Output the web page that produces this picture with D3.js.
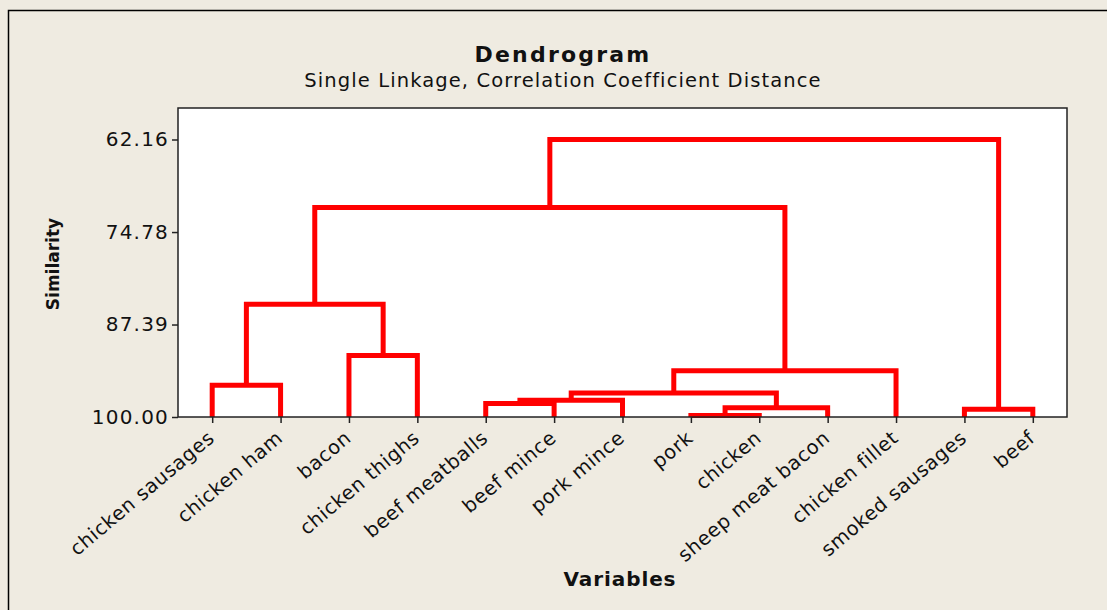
<!DOCTYPE html>
<html>
<head>
<meta charset="utf-8">
<script src="https://cdn.jsdelivr.net/npm/d3@7"></script>
<style>
  html, body { margin: 0; padding: 0; background: #efebe1; }
  svg { display: block; font-family: "DejaVu Sans", Verdana, sans-serif; }
</style>
</head>
<body>
<svg id="chart" width="1107" height="610"></svg>
<script>
// ---- data ----
const variables = ["chicken sausages", "chicken ham", "bacon", "chicken thighs", "beef meatballs",
  "beef mince", "pork mince", "pork", "chicken", "sheep meat bacon", "chicken fillet",
  "smoked sausages", "beef"];
// merge steps: cluster ids 0..12 are leaves, step k creates cluster 13+k
const mergeLeft  = [7, 11, 13, 4, 16, 17, 0, 18, 2, 19, 22, 23];
const mergeRight = [8, 12, 9, 5, 6, 15, 1, 10, 3, 21, 20, 14];
const mergeSimilarity = [99.78, 98.96, 98.73, 98.17, 97.70, 96.73, 95.66, 93.71, 91.61, 84.61, 71.42, 62.16];
const yTicks = [62.16, 74.78, 87.39, 100.00];

const title = "Dendrogram";
const subtitle = "Single Linkage, Correlation Coefficient Distance";
const xTitle = "Variables";
const yTitle = "Similarity";

// ---- layout ----
const W = 1107, H = 610;
const plot = {left: 178, right: 1067, top: 108, bottom: 417};
const svg = d3.select("#chart");

// outer frame
svg.append("rect").attr("x", 8.5).attr("y", 10.5).attr("width", W + 50).attr("height", H + 50)
  .attr("fill", "#efebe1").attr("stroke", "#000").attr("stroke-width", 1.5);

// plot area
svg.append("rect").attr("x", plot.left).attr("y", plot.top)
  .attr("width", plot.right - plot.left).attr("height", plot.bottom - plot.top)
  .attr("fill", "#ffffff");

const x = d3.scalePoint().domain(variables).range([plot.left, plot.right]).padding(0.5);
const y = d3.scaleLinear().domain([100, 62.16]).range([plot.bottom, 139.5]);

// build node positions
const nodeX = variables.map(v => x(v));
const nodeY = variables.map(() => y(100));
const links = [];
mergeLeft.forEach((a, k) => {
  const b = mergeRight[k];
  const h = y(mergeSimilarity[k]);
  links.push({x1: nodeX[a], y1: nodeY[a], x2: nodeX[b], y2: nodeY[b], h});
  nodeX.push((nodeX[a] + nodeX[b]) / 2);
  nodeY.push(h);
});

svg.append("g").selectAll("path").data(links).join("path")
  .attr("d", d => `M${d.x1},${d.y1}V${d.h}H${d.x2}V${d.y2}`)
  .attr("fill", "none").attr("stroke", "#ff0000").attr("stroke-width", 5)
  .attr("stroke-linejoin", "miter").attr("stroke-linecap", "butt");

// plot border
svg.append("rect").attr("x", plot.left).attr("y", plot.top)
  .attr("width", plot.right - plot.left).attr("height", plot.bottom - plot.top)
  .attr("fill", "none").attr("stroke", "#222").attr("stroke-width", 1.5);

// y axis
const yAxis = svg.append("g").attr("transform", `translate(${plot.left},0)`)
  .call(d3.axisLeft(y).tickValues(yTicks).tickFormat(d => d.toFixed(2)).tickSize(6).tickSizeOuter(0).tickPadding(3));
yAxis.select(".domain").remove();
yAxis.selectAll(".tick line").attr("stroke", "#222").attr("stroke-width", 1.5);
yAxis.selectAll(".tick text").attr("font-size", 20).attr("fill", "#111")
  .attr("font-family", "DejaVu Sans").style("letter-spacing", "1.2px");

// x axis
const xAxis = svg.append("g").attr("transform", `translate(0,${plot.bottom})`)
  .call(d3.axisBottom(x).tickSize(6).tickSizeOuter(0));
xAxis.select(".domain").remove();
xAxis.selectAll(".tick line").attr("stroke", "#222").attr("stroke-width", 1.5);
xAxis.selectAll(".tick text")
  .attr("font-size", 19.5).attr("fill", "#111").attr("font-family", "DejaVu Sans")
  .style("letter-spacing", "0.6px")
  .attr("text-anchor", "end")
  .attr("x", 0).attr("y", 0).attr("dy", null)
  .attr("transform", "translate(3,23) rotate(-40)");

// titles
svg.append("text").attr("x", 563).attr("y", 62).attr("text-anchor", "middle")
  .attr("font-size", 22).attr("font-weight", "bold").attr("fill", "#111")
  .style("letter-spacing", "2.2px").text(title);
svg.append("text").attr("x", 563).attr("y", 87).attr("text-anchor", "middle")
  .attr("font-size", 19.5).attr("fill", "#111")
  .style("letter-spacing", "1.1px").text(subtitle);
svg.append("text").attr("x", 620).attr("y", 586).attr("text-anchor", "middle")
  .attr("font-size", 20).attr("font-weight", "bold").attr("fill", "#111")
  .style("letter-spacing", "0.9px").text(xTitle);
svg.append("text").attr("transform", "translate(59,264) rotate(-90)").attr("text-anchor", "middle")
  .attr("font-size", 17).attr("font-weight", "bold").attr("fill", "#111")
  .text(yTitle);
</script>
</body>
</html>
